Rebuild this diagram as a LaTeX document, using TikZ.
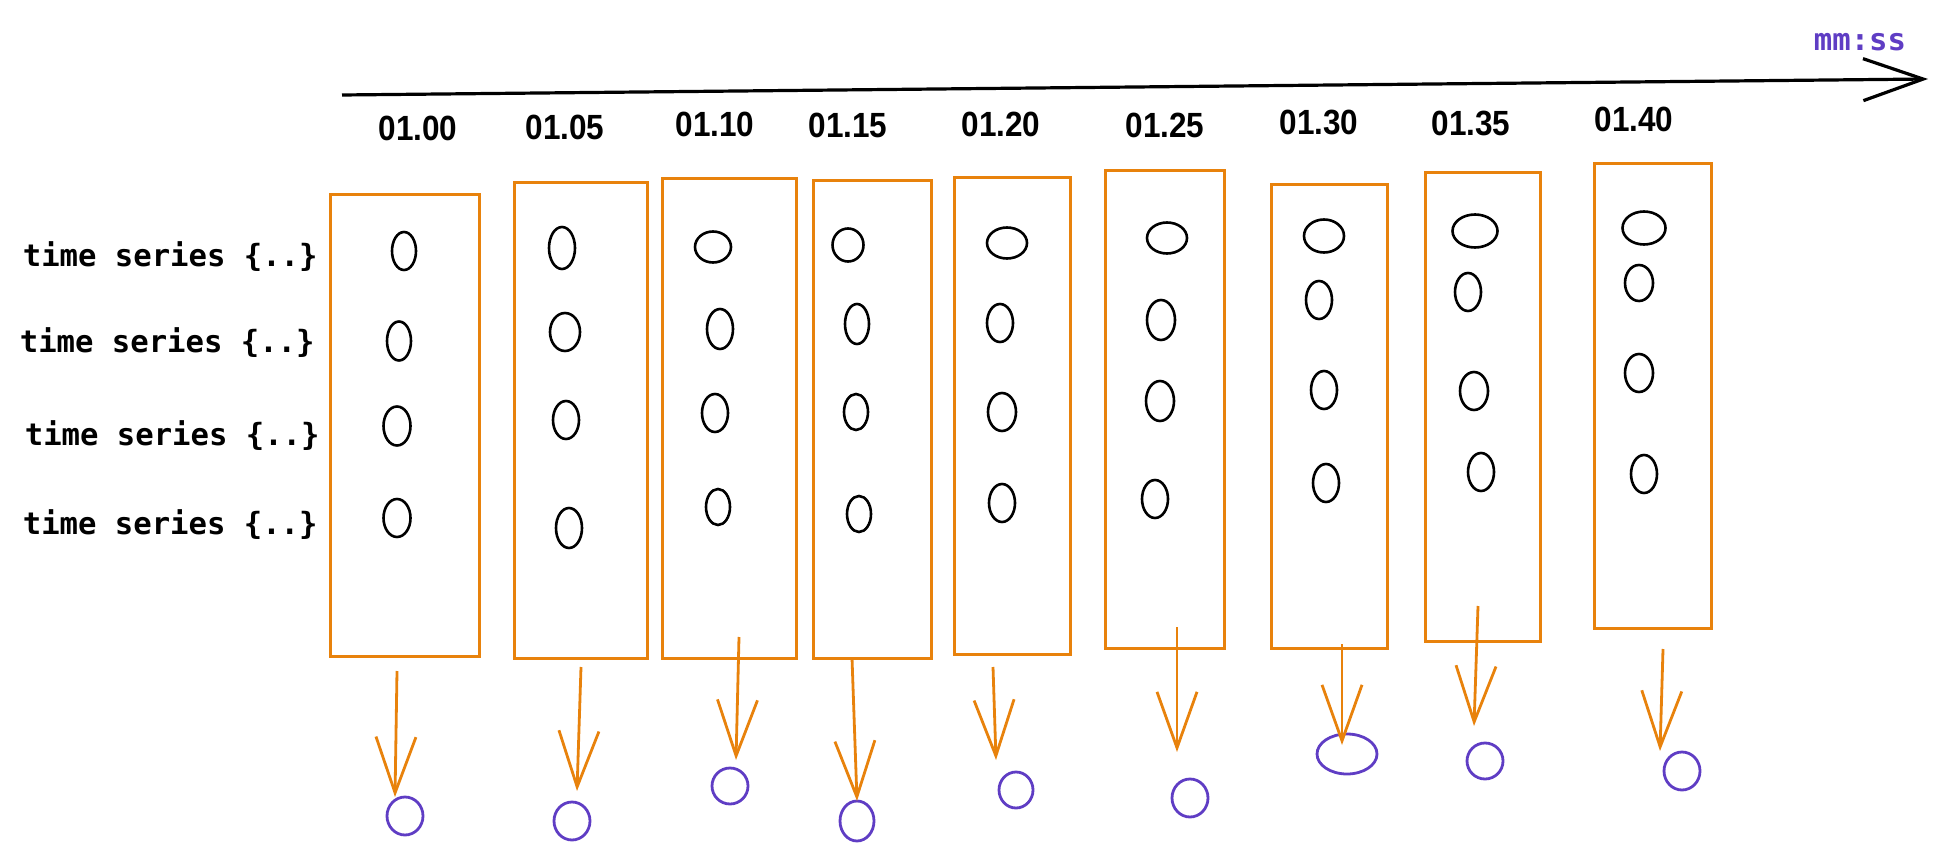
\documentclass[tikz,border=0pt]{standalone}
\usepackage{fontspec}
\usepackage{graphicx}
\usetikzlibrary{arrows.meta,shapes.geometric}
\newfontfamily\monof{DejaVu Sans Mono}
\newfontfamily\handf{Liberation Sans}
\definecolor{sketchorange}{RGB}{232,130,12}
\definecolor{sketchpurple}{RGB}{95,61,196}
\begin{document}
\begin{tikzpicture}[x=0.5pt,y=-0.5pt,
  tbox/.style={draw=sketchorange, line width=1.5pt, inner sep=0pt},
  dot/.style={draw=black, ellipse, line width=1.3pt, inner sep=0pt},
  res/.style={draw=sketchpurple, ellipse, line width=1.4pt, inner sep=0pt},
  flow/.style={draw=sketchorange, line width=1.4pt, -{Straight Barb[length=28pt,width=20pt]}},
  tlabel/.style={font=\handf\bfseries\fontsize{17.5}{20}\selectfont, inner sep=0pt},
  rowlabel/.style={font=\monof\bfseries\fontsize{15.3}{18}\selectfont, anchor=east, inner sep=0pt}]
\useasboundingbox (0,0) rectangle (1947,861);

% time axis
\coordinate (axs) at (342,95);
\coordinate (axe) at (1928,79);
\draw[line width=1.6pt, -{Straight Barb[length=30pt,width=21pt]}] (axs) -- (axe);
\node[font=\monof\bfseries\fontsize{15.3}{18}\selectfont, text=sketchpurple, inner sep=0pt] (unit) at (1860,42) {mm:ss};

% time labels
\foreach \n/\x/\y/\t in {1/418/128/01.00, 2/565/127/01.05, 3/715/124/01.10, 4/848/125/01.15, 5/1001/124/01.20, 6/1165/125/01.25, 7/1319/122/01.30, 8/1471/123/01.35, 9/1634/119/01.40}
  \node[tlabel] (t\n) at (\x,\y) {\scalebox{0.9}[1]{\t}};

% row labels
\node[rowlabel] (r1) at (318,257) {time series \{..\}};
\node[rowlabel] (r2) at (315,343) {time series \{..\}};
\node[rowlabel] (r3) at (320,436) {time series \{..\}};
\node[rowlabel] (r4) at (318,525) {time series \{..\}};

% boxes
\foreach \n/\x/\y/\w/\h in {1/404.5/425.5/149/461, 2/580.5/420.5/133/475, 3/729/418.5/134/479, 4/872/419.5/118/477, 5/1012/416/116/476, 6/1164.5/409.5/119/477, 7/1329/416.5/116/463, 8/1482.5/407/115/468, 9/1652.5/396/117/464}
  \node[tbox, minimum width=\w*0.5pt, minimum height=\h*0.5pt] (b\n) at (\x,\y) {};

% data points
\foreach \n/\x/\y/\w/\h in {
  11/404/251/24/38, 12/399/341/24/39, 13/397/426/27/39, 14/397/518/27/38,
  21/562/248/26/42, 22/565/332/30/38, 23/566/420/26/38, 24/569/528/26/40,
  31/713/247/36/31, 32/720/329/26/40, 33/715/413/26/38, 34/718/507/24/36,
  41/848/245/31/33, 42/857/324/24/40, 43/856/412/24/36, 44/859/514/24/36,
  51/1007/243/40/31, 52/1000/323/26/38, 53/1002/412/28/38, 54/1002/503/26/38,
  61/1167/238/40/31, 62/1161/320/28/40, 63/1160/401/28/40, 64/1155/499/26/38,
  71/1324/236/40/33, 72/1319/300/26/38, 73/1324/390/26/38, 74/1326/483/26/38,
  81/1475/231/45/33, 82/1468/292/26/38, 83/1474/391/28/38, 84/1481/472/26/38,
  91/1644/228/43/33, 92/1639/283/28/36, 93/1639/373/28/38, 94/1644/474/26/38}
  \node[dot, minimum width=\w*0.5pt, minimum height=\h*0.5pt] (d\n) at (\x,\y) {};

% results
\foreach \n/\x/\y/\w/\h in {1/405/816/36/38, 2/572/821/36/38, 3/730/786/36/36, 4/857/821/34/40, 5/1016/790/34/36, 6/1190/798/36/38, 7/1347/754/60/40, 8/1485/761/36/36, 9/1682/771/36/38}
  \node[res, minimum width=\w*0.5pt, minimum height=\h*0.5pt] (c\n) at (\x,\y) {};

% arrows
\foreach \n/\sx/\sy/\ex/\ey in {1/397/671/395/797, 2/581/667/577/791, 3/739/637/736/760, 4/852/658/857/801, 5/993/667/996/760, 6/1177/627/1177/752, 7/1342/644/1342/745, 8/1478/606/1474/726, 9/1663/649/1660/751}
{
  \coordinate (s\n) at (\sx,\sy);
  \coordinate (e\n) at (\ex,\ey);
  \draw[flow] (s\n) -- (e\n);
}
\end{tikzpicture}
\end{document}
